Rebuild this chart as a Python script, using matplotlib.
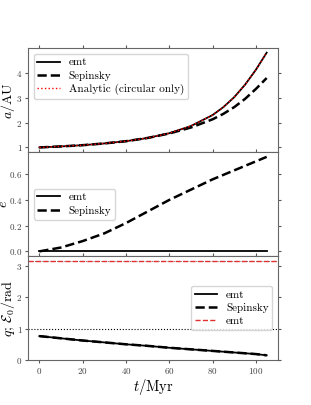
import numpy as np
import matplotlib
matplotlib.use("Agg")
import matplotlib.pyplot as plt
from matplotlib.ticker import MultipleLocator

plt.rcParams['font.family'] = 'serif'
plt.rcParams['font.serif'] = ['cmr10', 'DejaVu Serif']
plt.rcParams['mathtext.fontset'] = 'cm'
plt.rcParams['axes.unicode_minus'] = False
plt.rcParams['axes.formatter.use_mathtext'] = True
plt.rcParams['legend.fontsize'] = 8
plt.rcParams['legend.labelspacing'] = 0.3
plt.rcParams['legend.borderpad'] = 0.35

# time grid (Myr)
t = [0, 10, 20, 30, 40, 50, 60, 70, 80, 85, 90, 95, 100, 105]

# semi-major axis (AU)
a_emt = [1.0, 1.04, 1.09, 1.16, 1.25, 1.38, 1.57, 1.86, 2.3, 2.62, 3.02, 3.52, 4.12, 4.81]
a_sep = [1.0, 1.04, 1.09, 1.16, 1.25, 1.38, 1.56, 1.80, 2.13, 2.35, 2.62, 2.95, 3.35, 3.79]
a_ana = [1.0, 1.04, 1.09, 1.16, 1.25, 1.38, 1.57, 1.86, 2.3, 2.62, 3.02, 3.52, 4.12, 4.81]

# eccentricity
e_emt = [0, 0, 0, 0, 0, 0, 0, 0, 0, 0, 0, 0, 0, 0]
e_sep = [0, 0.03, 0.08, 0.14, 0.22, 0.31, 0.40, 0.48, 0.56, 0.595, 0.63, 0.665, 0.70, 0.735]

# mass ratio
q_emt = [0.76, 0.69, 0.62, 0.56, 0.50, 0.45, 0.39, 0.34, 0.29, 0.265, 0.24, 0.215, 0.19, 0.15]
q_sep = [0.76, 0.69, 0.62, 0.56, 0.50, 0.45, 0.39, 0.34, 0.29, 0.265, 0.24, 0.215, 0.19, 0.15]
eps0_emt = np.pi

fig = plt.figure(figsize=(3.11, 4.05), dpi=100)
gs = fig.add_gridspec(3, 1, left=0.09, right=0.894, bottom=0.111, top=0.881, hspace=0)
ax1 = fig.add_subplot(gs[0])
ax2 = fig.add_subplot(gs[1], sharex=ax1)
ax3 = fig.add_subplot(gs[2], sharex=ax1)

ax1.plot(t, a_emt, 'k-', lw=1.3, label='emt')
ax1.plot(t, a_sep, 'k--', lw=1.8, label='Sepinsky')
ax1.plot(t, a_ana, 'r:', lw=1, label='Analytic (circular only)')
ax1.set_ylim(0.81, 4.99)
ax1.set_ylabel(r'$a/\mathrm{AU}$', fontsize=10)
ax1.yaxis.set_label_coords(-0.045, 0.5)
ax1.yaxis.set_major_locator(MultipleLocator(1))
ax1.legend(loc='upper left')

ax2.plot(t, e_emt, 'k-', lw=1.3, label='emt')
ax2.plot(t, e_sep, 'k--', lw=1.8, label='Sepinsky')
ax2.set_ylabel(r'$e$', fontsize=10)
ax2.yaxis.set_label_coords(-0.07, 0.5)
ax2.yaxis.set_major_locator(MultipleLocator(0.2))
ax2.legend(loc='center left')

ax3.axhline(np.pi, color='0.3', ls=':', lw=0.6)
ax3.axhline(1, color='k', ls=':', lw=0.8)
ax3.plot(t, q_emt, 'k-', lw=1.3, label='emt')
ax3.plot(t, q_sep, 'k--', lw=1.8, label='Sepinsky')
ax3.axhline(eps0_emt, color='#e03030', ls='--', lw=1.0, label='emt')
ax3.set_ylim(0, 3.3)
ax3.yaxis.set_major_locator(MultipleLocator(1))
ax3.set_ylabel(r'$q;\,\mathcal{E}_0/\mathrm{rad}$', fontsize=10)
ax3.yaxis.set_label_coords(-0.045, 0.5)
ax3.set_xlabel(r'$t/\mathrm{Myr}$', fontsize=10.5, labelpad=1)
ax3.legend(loc='center right')

for ax in (ax1, ax2, ax3):
    ax.tick_params(direction='out', top=True, right=True, labelsize=6.5,
                   colors='0.35', labelcolor='0.25', length=2.5, pad=1.5)
    for s in ax.spines.values():
        s.set_color('0.4')
for ax in (ax1, ax2):
    ax.tick_params(labelbottom=False)

plt.savefig('out.png', dpi=100)
